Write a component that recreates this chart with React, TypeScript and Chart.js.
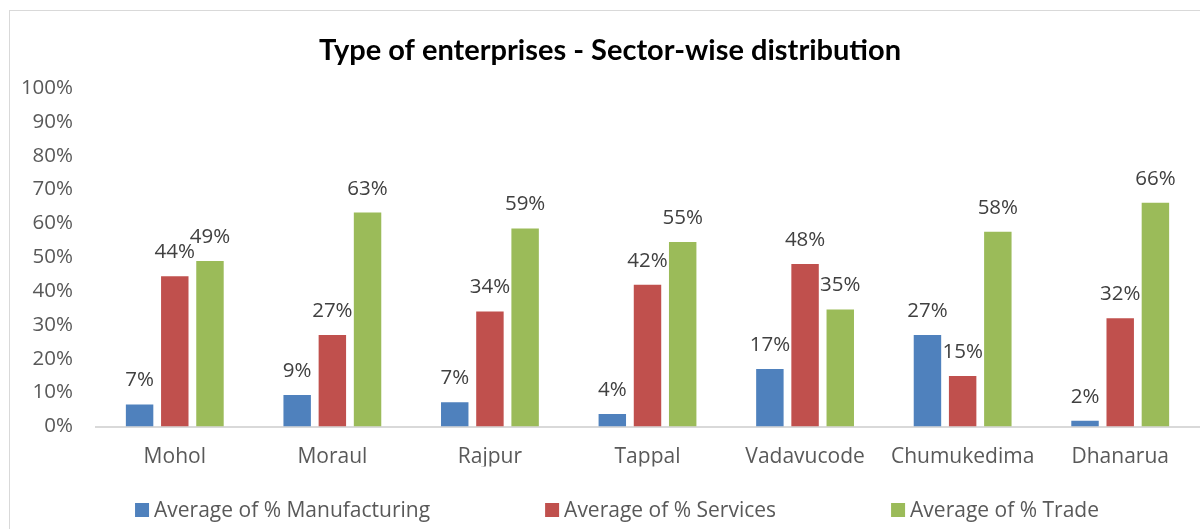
import React, { useEffect, useRef } from "react";
import { Chart, registerables } from "chart.js";

Chart.register(...registerables);

const categories = ["Mohol", "Moraul", "Rajpur", "Tappal", "Vadavucode", "Chumukedima", "Dhanarua"];
const manufacturing = [6.5, 9.3, 7.2, 3.7, 17.0, 27.0, 1.7];
const services = [44.4, 27.0, 34.0, 41.9, 48.0, 14.9, 32.0];
const trade = [48.9, 63.2, 58.5, 54.5, 34.6, 57.5, 66.1];
const seriesNames = ["Average of % Manufacturing", "Average of % Services", "Average of % Trade"];
const seriesColors = ["#4F81BD", "#C0504D", "#9BBB59"];
const yTicks = [0, 10, 20, 30, 40, 50, 60, 70, 80, 90, 100];
const titleText = "Type of enterprises - Sector-wise distribution";

const FONT = "'Open Sans', sans-serif";

const framePlugin = {
  id: "frame",
  beforeDraw(chart: any) {
    const ctx = chart.ctx;
    ctx.save();
    ctx.fillStyle = "#ffffff";
    ctx.fillRect(0, 0, chart.width, chart.height);
    ctx.strokeStyle = "#d9d9d9";
    ctx.lineWidth = 1;
    ctx.strokeRect(9.5, 10.5, chart.width + 50, chart.height + 50);
    ctx.restore();
  },
};

const titlePlugin = {
  id: "customTitle",
  afterDraw(chart: any) {
    const ctx = chart.ctx;
    ctx.save();
    ctx.font = "bold 29px Lato, sans-serif";
    ctx.fillStyle = "#000000";
    ctx.textAlign = "center";
    ctx.textBaseline = "alphabetic";
    ctx.fillText(titleText, 610, 60);
    ctx.restore();
  },
};

const dataLabelPlugin = {
  id: "dataLabels",
  afterDatasetsDraw(chart: any) {
    const ctx = chart.ctx;
    ctx.save();
    ctx.font = "20.5px " + FONT;
    ctx.fillStyle = "#404040";
    ctx.textAlign = "center";
    ctx.textBaseline = "alphabetic";
    chart.data.datasets.forEach((ds: any, i: number) => {
      const meta = chart.getDatasetMeta(i);
      meta.data.forEach((bar: any, j: number) => {
        const v = ds.data[j];
        ctx.fillText(Math.round(v) + "%", bar.x, bar.y - 18);
      });
    });
    ctx.restore();
  },
};

const legendPlugin = {
  id: "customLegend",
  afterDraw(chart: any) {
    const ctx = chart.ctx;
    ctx.save();
    ctx.font = "21px " + FONT;
    const box = 14;
    const boxGap = 5;
    const itemGap = 115;
    const widths = chart.data.datasets.map((ds: any) => box + boxGap + ctx.measureText(ds.label).width);
    const total = widths.reduce((a: number, b: number) => a + b, 0) + itemGap * (widths.length - 1);
    let x = 617 - total / 2;
    const baseY = 517;
    chart.data.datasets.forEach((ds: any, i: number) => {
      ctx.fillStyle = ds.backgroundColor;
      ctx.fillRect(x, 503, box, box);
      ctx.fillStyle = "#595959";
      ctx.textAlign = "left";
      ctx.textBaseline = "alphabetic";
      ctx.fillText(ds.label, x + box + boxGap, baseY);
      x += widths[i] + itemGap;
    });
    ctx.restore();
  },
};

export default function App() {
  const canvasRef = useRef<HTMLCanvasElement | null>(null);

  useEffect(() => {
    document.body.style.margin = "0";
    const canvas = canvasRef.current;
    if (!canvas) return;
    const chart = new Chart(canvas, {
      type: "bar",
      data: {
        labels: categories,
        datasets: [manufacturing, services, trade].map((d, i) => ({
          label: seriesNames[i],
          data: d,
          backgroundColor: seriesColors[i],
          borderWidth: 0,
          categoryPercentage: 0.67,
          barPercentage: 0.78,
        })),
      },
      options: {
        animation: false,
        responsive: false,
        devicePixelRatio: 1,
        layout: { padding: { top: 88, right: 1, bottom: 62.5, left: 0 } },
        plugins: {
          legend: { display: false },
          title: { display: false },
          tooltip: { enabled: false },
        },
        scales: {
          x: {
            grid: { display: false, drawTicks: false },
            border: { display: true, color: "#d9d9d9", width: 2 },
            ticks: {
              color: "#595959",
              font: { family: FONT, size: 21 },
              padding: 18,
              maxRotation: 0,
              autoSkip: false,
            },
            afterFit(scale: any) {
              scale.height = 40;
            },
          },
          y: {
            min: 0,
            max: 100,
            grid: { display: false, drawTicks: false },
            border: { display: false },
            afterBuildTicks(scale: any) {
              scale.ticks = yTicks.map((v) => ({ value: v }));
            },
            ticks: {
              color: "#595959",
              font: { family: FONT, size: 20.5 },
              padding: 23,
              callback: (v: any) => v + "%",
            },
            afterFit(scale: any) {
              scale.width = 96;
            },
          },
        },
      },
      plugins: [framePlugin, titlePlugin, dataLabelPlugin, legendPlugin],
    });
    return () => chart.destroy();
  }, []);

  return (
    <div style={{ width: 1200, height: 529 }}>
      <canvas ref={canvasRef} width={1200} height={529} style={{ display: "block" }} />
    </div>
  );
}
